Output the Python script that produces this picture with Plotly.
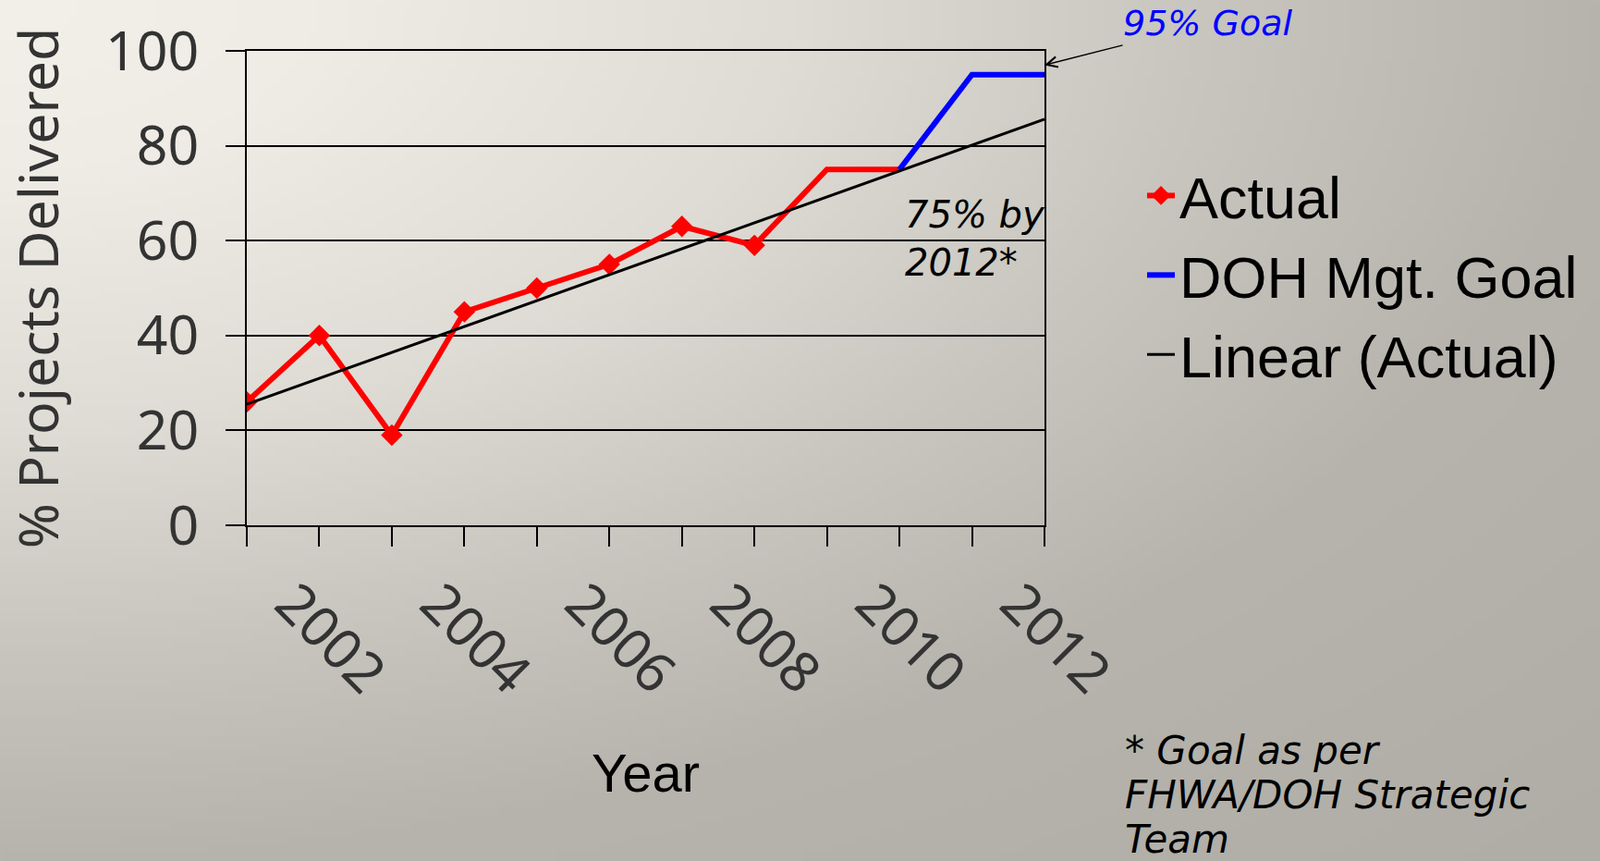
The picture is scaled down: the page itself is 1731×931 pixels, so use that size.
import base64
import struct
import zlib

import numpy as np
import plotly.graph_objects as go

# ---------------- data ----------------
years_all = list(range(2001, 2013))
tick_labels = ["" if y % 2 else str(y) for y in years_all]

actual_years = [2001, 2002, 2003, 2004, 2005, 2006, 2007, 2008]
actual_values = [26, 40, 19, 45, 50, 55, 63, 59]

goal_years = [2008, 2009, 2010, 2011, 2012]
goal_values = [59, 75, 75, 95, 95]

footnote_lines = ["* Goal as per", "FHWA/DOH Strategic", "Team"]

# linear trend of Actual (as in the spreadsheet trendline), extended to 2012
slope, intercept = np.polyfit(actual_years, actual_values, 1)
trend_years = [years_all[0], years_all[-1]]
trend_values = [slope * x + intercept for x in trend_years]

# ---------------- background gradient (image) ----------------
W, H = 1731, 931
gw, gh = 220, 120
u = np.linspace(0, 1, gw)[None, :]
v = np.linspace(0, 1, gh)[:, None]
r = np.sqrt(u ** 2 + v ** 2)
stops_r = [0.0, 0.2, 0.5, 0.75, 1.0, 1.42]
stops_c = [242, 238, 222, 200, 182, 175]
base = np.interp(r, stops_r, stops_c)
img = np.stack([base, base - 2, base - 9], axis=-1).clip(0, 255).astype(np.uint8)


def make_png(arr):
    h, w, _ = arr.shape
    raw = b"".join(b"\x00" + arr[i].tobytes() for i in range(h))

    def chunk(t, d):
        c = struct.pack(">I", len(d)) + t + d
        return c + struct.pack(">I", zlib.crc32(t + d) & 0xFFFFFFFF)

    return (b"\x89PNG\r\n\x1a\n"
            + chunk(b"IHDR", struct.pack(">IIBBBBB", w, h, 8, 2, 0, 0, 0))
            + chunk(b"IDAT", zlib.compress(raw, 9))
            + chunk(b"IEND", b""))


bg_uri = "data:image/png;base64," + base64.b64encode(make_png(img)).decode()

# ---------------- layout geometry ----------------
ML, MR, MT, MB = 267, 601, 55, 363
PW = W - ML - MR
PH = H - MT - MB

SANS = "Noto Sans, Liberation Sans, sans-serif"
LEG = "Liberation Sans, Arial, sans-serif"
ITAL = "DejaVu Sans, sans-serif"

fig = go.Figure()

fig.add_trace(go.Scatter(
    x=actual_years, y=actual_values, name="Actual", mode="lines+markers",
    line=dict(color="#ff0000", width=6),
    marker=dict(symbol="diamond", size=18, color="#ff0000"),
    legendgroup="a",
))
fig.add_trace(go.Scatter(
    x=goal_years[:3], y=goal_values[:3], mode="lines", showlegend=False,
    line=dict(color="#ff0000", width=6), legendgroup="g",
))
fig.add_trace(go.Scatter(
    x=goal_years[2:], y=goal_values[2:], name="DOH Mgt. Goal", mode="lines",
    line=dict(color="#0000ff", width=6), legendgroup="g",
))
fig.add_trace(go.Scatter(
    x=trend_years, y=trend_values, name="Linear (Actual)", mode="lines",
    line=dict(color="#000000", width=3), legendgroup="t",
))

annotations = [
    dict(
        text="95% Goal", x=years_all[-1], y=97, xref="x", yref="y",
        ax=177, ay=-45, axref="pixel", ayref="pixel",
        showarrow=True, arrowhead=5, arrowsize=1.5, arrowwidth=1.5, arrowcolor="#000",
        font=dict(family=ITAL, size=38, color="#0000ff", style="italic"),
    ),
    dict(
        text="75% by<br>2012*", x=2010.05, y=60.5, xref="x", yref="y",
        xanchor="left", yanchor="middle", align="left", showarrow=False,
        font=dict(family=ITAL, size=40, color="#000000", style="italic"),
    ),
]
for i, line in enumerate(footnote_lines):
    annotations.append(dict(
        text=line, x=(1215 - ML) / PW, y=(568 - (811 + 48 * i)) / PH,
        xref="paper", yref="paper", xanchor="left", yanchor="middle",
        align="left", showarrow=False,
        font=dict(family=ITAL, size=42, color="#000000", style="italic"),
    ))

fig.update_layout(
    template="none",
    width=W, height=H,
    margin=dict(l=ML, r=MR, t=MT, b=MB, pad=0),
    paper_bgcolor="#c8c6be",
    plot_bgcolor="rgba(0,0,0,0)",
    showlegend=True,
    legend=dict(
        x=(1236 - ML) / PW, y=(568 - 164) / PH, xanchor="left", yanchor="top",
        font=dict(family=LEG, size=63, color="#000000"),
        bgcolor="rgba(0,0,0,0)", traceorder="grouped", tracegroupgap=1,
    ),
    images=[dict(
        source=bg_uri, xref="paper", yref="paper",
        x=-ML / PW, y=1 + MT / PH, sizex=W / PW, sizey=H / PH,
        sizing="stretch", layer="below", xanchor="left", yanchor="top",
    )],
    xaxis=dict(
        range=[years_all[0], years_all[-1]],
        tickmode="array", tickvals=years_all, ticktext=tick_labels,
        tickangle=45, ticks="outside", ticklen=21, tickwidth=1.5, tickcolor="#000",
        showline=True, linecolor="#000", linewidth=2, mirror=True,
        showgrid=False, zeroline=False,
        tickfont=dict(family=SANS, size=60, color="#333333"),
        ticklabelstandoff=2, ticklabelshift=-30,
        title=dict(text="Year", font=dict(family=LEG, size=58, color="#000000"), standoff=50),
        automargin=False,
    ),
    yaxis=dict(
        range=[0, 100], tickmode="array", tickvals=[0, 20, 40, 60, 80, 100],
        ticks="outside", ticklen=21, tickwidth=1.5, tickcolor="#000",
        showline=True, linecolor="#000", linewidth=2, mirror=True,
        showgrid=True, gridcolor="#000000", gridwidth=1.6, zeroline=False,
        tickfont=dict(family=SANS, size=59, color="#333333"),
        ticklabelstandoff=17,
        title=dict(text="% Projects Delivered", font=dict(family=SANS, size=59, color="#333333"), standoff=50),
        automargin=False,
    ),
    annotations=annotations,
)

fig.write_html(
    "out.html",
    config={"displayModeBar": False},
    post_script="document.body.style.margin='0px';",
)
